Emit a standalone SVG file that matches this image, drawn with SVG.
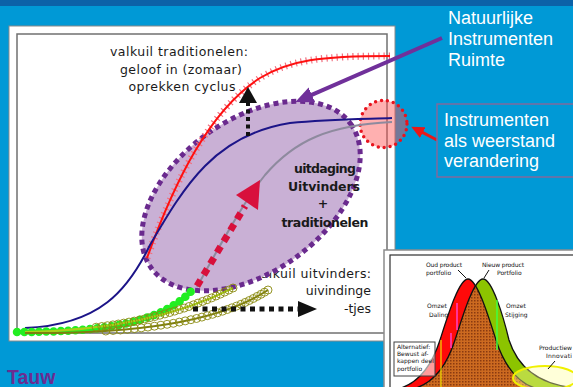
<svg xmlns="http://www.w3.org/2000/svg" width="573" height="387" viewBox="0 0 573 387">
<defs>
<style>
.lbl{font-family:"DejaVu Sans",sans-serif;font-size:12.5px;fill:#1a1a1a}
.b{font-weight:bold}
.wt{font-family:"Liberation Sans",Arial,sans-serif;font-size:18px;fill:#ffffff}
.tiny{font-family:"DejaVu Sans",sans-serif;font-size:6px;fill:#111111}
.ring{fill:none;stroke:#8a8a10;stroke-width:0.9}
</style>
<marker id="ahP" markerUnits="userSpaceOnUse" markerWidth="20" markerHeight="18" refX="2" refY="9" orient="auto"><path d="M0,1 L18,9 L0,17 Z" fill="#70309a"/></marker>
<marker id="ahR" markerUnits="userSpaceOnUse" markerWidth="14" markerHeight="12" refX="2" refY="6" orient="auto"><path d="M0,0 L13,6 L0,12 Z" fill="#e81818"/></marker>
<marker id="rg" markerUnits="userSpaceOnUse" markerWidth="10" markerHeight="10" refX="5" refY="5" overflow="visible"><circle cx="5" cy="5" r="4" class="ring"/></marker>
<pattern id="hatch" width="3" height="3" patternUnits="userSpaceOnUse"><rect width="3" height="3" fill="#cc6a20"/><rect width="1.5" height="1.5" fill="#8a3a10"/></pattern>
<clipPath id="redClip"><path d="M393,390 C418,386 432,365 440,340 C448,315 459,279 468,279 C477,279 488,315 496,340 C504,365 518,386 543,390 Z"/></clipPath>
</defs>

<rect width="573" height="387" fill="#0099d6"/>
<rect width="573" height="6" fill="#0c62a8"/>

<g id="panel">
<rect x="9" y="26" width="386" height="315" fill="#ffffff" stroke="#8a8a8a" stroke-width="1"/>
<rect x="17" y="34" width="370" height="299" fill="#ffffff" stroke="#707070" stroke-width="1.5"/>
</g>

<g id="label-valkuil-uitvinders">
<text class="lbl" x="371" y="278" text-anchor="end" textLength="118">valkuil uitvinders:</text>
<text class="lbl" x="371" y="295" text-anchor="end">uivindinge</text>
<text class="lbl" x="371" y="313" text-anchor="end">-tjes</text>
</g>

<g id="ruimte-ellipse">
<ellipse cx="251" cy="196" rx="123" ry="76" transform="rotate(-35.8 251 196)" fill="#c9b0d5" stroke="#6a2a8e" stroke-width="5" stroke-dasharray="5 4"/>
</g>

<g id="weerstand-circle">
<circle cx="383.5" cy="124" r="23.5" fill="#ff5050" fill-opacity="0.45" stroke="#e8141e" stroke-width="3.5" stroke-linecap="round" stroke-dasharray="0 6"/>
</g>

<g id="curves">
<path d="M147,258 C175,180 210,110 260,78 C290,60 320,56 390,56" fill="none" stroke="#f07080" stroke-width="7" stroke-dasharray="1.2 4"/>
<path d="M147,258 C175,180 210,110 260,78 C290,60 320,56 390,56" fill="none" stroke="#ff1010" stroke-width="2"/>
<path d="M25,328 C100,325 128,290 150,245 C185,185 215,135 290,123 C330,119 370,119 392,118" fill="none" stroke="#1c1488" stroke-width="2"/>
<path d="M197,287 C220,245 245,200 265,175 C295,140 330,125 392,122" fill="none" stroke="#8e8a9e" stroke-width="2"/>
<path d="M17,332 C110,332 165,322 195,287" fill="none" stroke="#22ee22" stroke-width="8.5" stroke-linecap="round" stroke-dasharray="0 7.3"/>
<path d="M25,332 Q150,330 233,288" fill="none" stroke="#a8d018" stroke-width="2"/>
<path d="M25,333 Q200,335 268,290" fill="none" stroke="#7e7e10" stroke-width="2"/>
<polyline fill="none" stroke="none" marker-start="url(#rg)" marker-mid="url(#rg)" marker-end="url(#rg)" points="96.2,327.2 101.8,326.5 107.4,325.7 112.9,324.9 118.3,324 123.7,323.1 129,322.1 134.3,321.1 139.5,320 144.7,318.9 149.8,317.7 154.9,316.5 159.9,315.2 164.9,313.9 169.8,312.5 174.6,311.1 179.4,309.6 184.2,308.1 188.9,306.5 193.5,304.8 198,303.1 202.6,301.4 207.1,299.7 211.6,297.9 216,296 220.3,294.1 224.6,292.1 228.8,290.1 233,288"/>
<polyline fill="none" stroke="none" marker-start="url(#rg)" marker-mid="url(#rg)" marker-end="url(#rg)" points="105.8,331 113.1,330.5 120.4,330 127.4,329.3 134.4,328.6 141.2,327.9 147.9,327.1 154.4,326.2 160.9,325.2 167.1,324.3 173.3,323.3 179.3,322.1 185.2,320.9 190.9,319.7 196.5,318.5 201.9,317.1 207.3,315.7 212.5,314.3 217.6,312.8 222.5,311.2 227.3,309.5 231.9,307.8 236.5,306.1 240.9,304.3 245.2,302.4 249.3,300.5 253.3,298.5 257.2,296.4 261,294.3 264.5,292.2 268,290"/>
</g>

<g id="arrows">
<line x1="197" y1="286" x2="245" y2="206" stroke="#d8103c" stroke-width="7" stroke-dasharray="7 6"/>
<path d="M260,180 L236,195 L258,210 Z" fill="#d8103c"/>
<line x1="248" y1="136" x2="248" y2="103" stroke="#111111" stroke-width="4" stroke-dasharray="4 3.5"/>
<path d="M248,87 L239,103 L257,103 Z" fill="#111111"/>
<line x1="193" y1="309" x2="298" y2="309" stroke="#111111" stroke-width="5" stroke-dasharray="5 4.5"/>
<path d="M317,309 L298,301 L298,317 Z" fill="#111111"/>
<line x1="442" y1="38" x2="310" y2="95.6" stroke="#70309a" stroke-width="4" marker-end="url(#ahP)"/>
<line x1="437" y1="140" x2="421" y2="131.7" stroke="#e81818" stroke-width="3" marker-end="url(#ahR)"/>
</g>

<g id="label-traditionelen">
<text class="lbl" x="179" y="56" text-anchor="middle" textLength="138">valkuil traditionelen:</text>
<text class="lbl" x="181" y="74" text-anchor="middle" textLength="122">geloof in (zomaar)</text>
<text class="lbl" x="182" y="91" text-anchor="middle" textLength="107">oprekken cyclus</text>
</g>

<g id="label-uitdaging">
<text class="lbl b" x="325" y="173" text-anchor="middle" textLength="62">uitdaging</text>
<text class="lbl b" x="324" y="191" text-anchor="middle" textLength="72">Uitvinders</text>
<text class="lbl b" x="323" y="208" text-anchor="middle">+</text>
<text class="lbl b" x="325" y="227" text-anchor="middle" textLength="87">traditionelen</text>
</g>

<g id="label-natuurlijke">
<text class="wt" x="448" y="24">Natuurlijke</text>
<text class="wt" x="448" y="45">Instrumenten</text>
<text class="wt" x="448" y="66">Ruimte</text>
</g>

<g id="label-weerstand">
<rect x="437" y="104" width="140" height="73" fill="none" stroke="#806a9c" stroke-width="1.5"/>
<text class="wt" x="444" y="126">Instrumenten</text>
<text class="wt" x="444" y="147">als weerstand</text>
<text class="wt" x="444" y="167">verandering</text>
</g>

<g id="inset">
<rect x="384" y="250" width="195" height="142" fill="#ffffff" stroke="#8c8c8c" stroke-width="1.5"/>
<rect x="390" y="255" width="190" height="137" fill="#ffffff" stroke="#303030" stroke-width="1.2"/>
<path d="M393,390 C418,386 432,365 440,340 C448,315 459,279 468,279 C477,279 488,315 496,340 C504,365 518,386 543,390 Z" fill="#ff0a0a"/>
<path d="M408,390 C433,386 447,365 455,340 C463,315 474,279 483,279 C492,279 503,315 509,340 C517,365 535,384 575,388 L575,392 Z" fill="#8cc400"/>
<path d="M408,390 C433,386 447,365 455,340 C463,315 474,279 483,279 C492,279 503,315 509,340 C517,365 535,384 575,388 L575,392 Z" fill="url(#hatch)" clip-path="url(#redClip)"/>
<path d="M393,390 C418,386 432,365 440,340 C448,315 459,279 468,279 C477,279 488,315 496,340 C504,365 518,386 543,390" fill="none" stroke="#111111" stroke-width="1.3"/>
<path d="M408,390 C433,386 447,365 455,340 C463,315 474,279 483,279 C492,279 503,315 509,340 C517,365 535,384 575,388" fill="none" stroke="#111111" stroke-width="1.3"/>
<line x1="457" y1="303" x2="457" y2="330" stroke="#ff40c8" stroke-width="1.5"/>
<line x1="451" y1="333" x2="451" y2="348" stroke="#ff40c8" stroke-width="1.5"/>
<line x1="497" y1="300" x2="497" y2="350" stroke="#40ff40" stroke-width="1.5"/>
<line x1="441" y1="340" x2="441" y2="390" stroke="#f0e000" stroke-width="1.2"/>
<ellipse cx="545" cy="378" rx="32" ry="12" fill="#ffffa0" fill-opacity="0.4" stroke="#f0f000" stroke-width="2"/>
<rect x="394" y="342" width="41" height="34" fill="#ffffff" fill-opacity="0.6" stroke="#404040" stroke-width="1"/>
<line x1="458" y1="270" x2="466" y2="278" stroke="#111111" stroke-width="1"/>
<line x1="489" y1="270" x2="484" y2="278" stroke="#111111" stroke-width="1"/>
<line x1="555" y1="361" x2="548" y2="369" stroke="#111111" stroke-width="1"/>
<text class="tiny" x="426" y="267" textLength="36">Oud product</text>
<text class="tiny" x="426" y="275">portfolio</text>
<text class="tiny" x="482" y="267" textLength="42">Nieuw product</text>
<text class="tiny" x="497" y="275">Portfolio</text>
<text class="tiny" x="427" y="308">Omzet</text>
<text class="tiny" x="429" y="317">Daling</text>
<text class="tiny" x="506" y="308">Omzet</text>
<text class="tiny" x="505" y="317">Stijging</text>
<text class="tiny" x="397" y="349">Alternatief:</text>
<text class="tiny" x="397" y="356">Bewust af-</text>
<text class="tiny" x="397" y="363">kappen deel</text>
<text class="tiny" x="397" y="371">portfolio</text>
<text class="tiny" x="539" y="350" textLength="33">Productiew</text>
<text class="tiny" x="546" y="358" textLength="26">Innovati</text>
</g>

<g id="logo">
<text x="7" y="384" font-family="Liberation Sans, Arial, sans-serif" font-size="19.5" font-weight="bold" fill="#6b2c91">Tauw</text>
</g>
</svg>
